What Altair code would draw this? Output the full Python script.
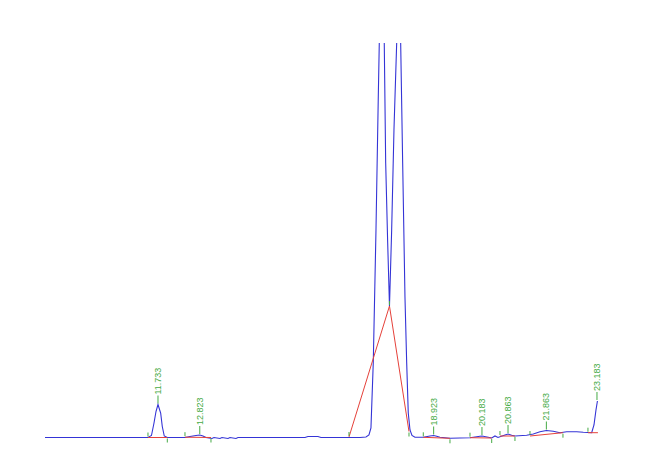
import altair as alt
import pandas as pd
import numpy as np

# ---- chromatogram trace (retention time in min, detector signal) ----
trace_time = [8.786, 10.220, 11.472, 11.563, 11.629, 11.681, 11.733, 11.803, 11.845, 11.897,
              11.976, 12.437, 12.568, 12.724, 12.823, 12.907, 12.985, 13.141, 13.194, 13.350,
              13.402, 13.559, 13.611, 13.767, 13.820, 15.567, 15.645, 15.906, 15.984, 17.002,
              17.158, 17.236, 17.288, 17.348, 17.419, 17.479, 17.505, 17.570, 17.635, 17.672,
              17.724, 17.771, 17.828, 17.888, 17.959, 18.011, 18.063, 18.115, 18.175, 18.220,
              18.261, 18.306, 18.358, 18.436, 18.653, 18.827, 18.923, 19.002, 19.088, 19.349,
              19.871, 20.131, 20.183, 20.348, 20.437, 20.523, 20.601, 20.783, 20.863, 20.958,
              21.044, 21.349, 21.522, 21.696, 21.863, 22.043, 22.218, 22.393, 22.654, 22.826,
              23.045, 23.105, 23.157, 23.195]
trace_signal = [0, 0, 0, 2, 14.5, 26, 33, 24.5, 11, 1.5,
                0, 0, 1, 2, 2.5, 1.5, 0, -1, 0, -1,
                0, -1, 0, -1, 0, 0, 1, 1, 0, 0,
                0.5, 2.5, 9.5, 74.5, 207.5, 340.5, 394.5, 520, 394.5, 274.5,
                195, 131.5, 207.5, 307.5, 394.5, 520, 394.5, 274.5, 140.5, 74.5,
                24.5, 7.5, 2, 0.2, 0.2, 1.5, 2, 1.2, 0.2, -0.8,
                -0.2, 1.2, 1.5, 0.2, -0.5, 1.5, 0, 2.5, 3.5, 2.2,
                1.5, 2.2, 3.5, 5.8, 7, 6.2, 4.8, 5.8, 5.8, 5.2,
                4.8, 12.5, 27.5, 36.5]

# ---- detected peaks ----
peak_rt = [11.733, 12.823, 18.923, 20.183, 20.863, 21.863, 23.183]
peak_height = [33, 2.5, 2, 1.5, 3.5, 7, 36.5]
peak_label = ["11.733", "12.823", "18.923", "20.183", "20.863", "21.863", "23.183"]

# ---- integration baselines ----
baseline_id = [1, 1, 2, 2, 3, 3, 3, 4, 4, 5, 5, 6, 6, 7, 7, 8, 8]
baseline_time = [11.472, 11.976, 12.437, 13.115, 16.715, 17.771, 18.280, 18.653, 19.349,
                 19.871, 20.437, 20.653, 21.044, 21.436, 22.296, 22.948, 23.208]
baseline_signal = [0, 0, 0.3, 0, 0.5, 131.5, 6, 0.2, -0.8,
                   -0.2, -0.5, 1.5, 1.5, 1.5, 4.8, 4.8, 4.8]

# ---- integration start / end markers ----
marker_time = [11.472, 11.976, 12.437, 13.115, 16.715, 17.771, 18.280, 18.653, 19.349,
               19.871, 20.437, 20.653, 21.044, 21.436, 22.296, 22.948]
marker_signal = [0, 0, 0.3, 0, 0.5, 131.5, 6, 0.2, -0.8,
                 -0.2, -0.5, 1.5, 1.5, 1.5, 4.8, 4.8]
marker_kind = ["start", "end", "start", "end", "start", "start", "end", "start", "end",
               "start", "end", "start", "end", "start", "end", "start"]

BLUE = "#3434d6"
RED = "#e5413a"
GREEN = "#45aa45"

trace = pd.DataFrame({"time": trace_time, "signal": trace_signal})
peaks = pd.DataFrame({"time": peak_rt, "height": peak_height, "label": peak_label})
peaks["stem0"] = peaks["height"] + 1
peaks["stem1"] = peaks["height"] + 9
peaks["text_y"] = peaks["height"] + 10
base = pd.DataFrame({"id": baseline_id, "time": baseline_time, "signal": baseline_signal})
marks = pd.DataFrame({"time": marker_time, "signal": marker_signal, "kind": marker_kind})
sgn = np.where(marks["kind"] == "start", 1, -1)
marks["y0"] = marks["signal"] + sgn * 1
marks["y1"] = marks["signal"] + sgn * 5

xs = alt.Scale(domain=[7.821, 24.227], nice=False, zero=False)
ys = alt.Scale(domain=[-6.5, 394.5], nice=False, zero=False)

line = alt.Chart(trace).mark_line(color=BLUE, strokeWidth=1.1, clip=True).encode(
    x=alt.X("time:Q", scale=xs, axis=None),
    y=alt.Y("signal:Q", scale=ys, axis=None),
)
bl = alt.Chart(base).mark_line(color=RED, strokeWidth=1, clip=True).encode(
    x=alt.X("time:Q", scale=xs, axis=None),
    y=alt.Y("signal:Q", scale=ys, axis=None),
    detail="id:N",
)
ticks = alt.Chart(marks).mark_rule(color=GREEN, strokeWidth=1).encode(
    x=alt.X("time:Q", scale=xs, axis=None),
    y=alt.Y("y0:Q", scale=ys, axis=None),
    y2="y1:Q",
)
stems = alt.Chart(peaks).mark_rule(color=GREEN, strokeWidth=1).encode(
    x=alt.X("time:Q", scale=xs, axis=None),
    y=alt.Y("stem0:Q", scale=ys, axis=None),
    y2="stem1:Q",
)
labels = alt.Chart(peaks).mark_text(
    color=GREEN, angle=270, align="left", baseline="middle",
    font="Liberation Sans", fontSize=9,
).encode(
    x=alt.X("time:Q", scale=xs, axis=None),
    y=alt.Y("text_y:Q", scale=ys, axis=None),
    text="label:N",
)

chart = alt.layer(line, bl, ticks, stems, labels).properties(
    width=629, height=401,
    padding={"left": 0, "top": 35, "right": 0, "bottom": 0},
    autosize=alt.AutoSizeParams(type="none"),
).configure_view(stroke=None)

chart.save("out.html", embed_options={"renderer": "svg", "actions": False})
